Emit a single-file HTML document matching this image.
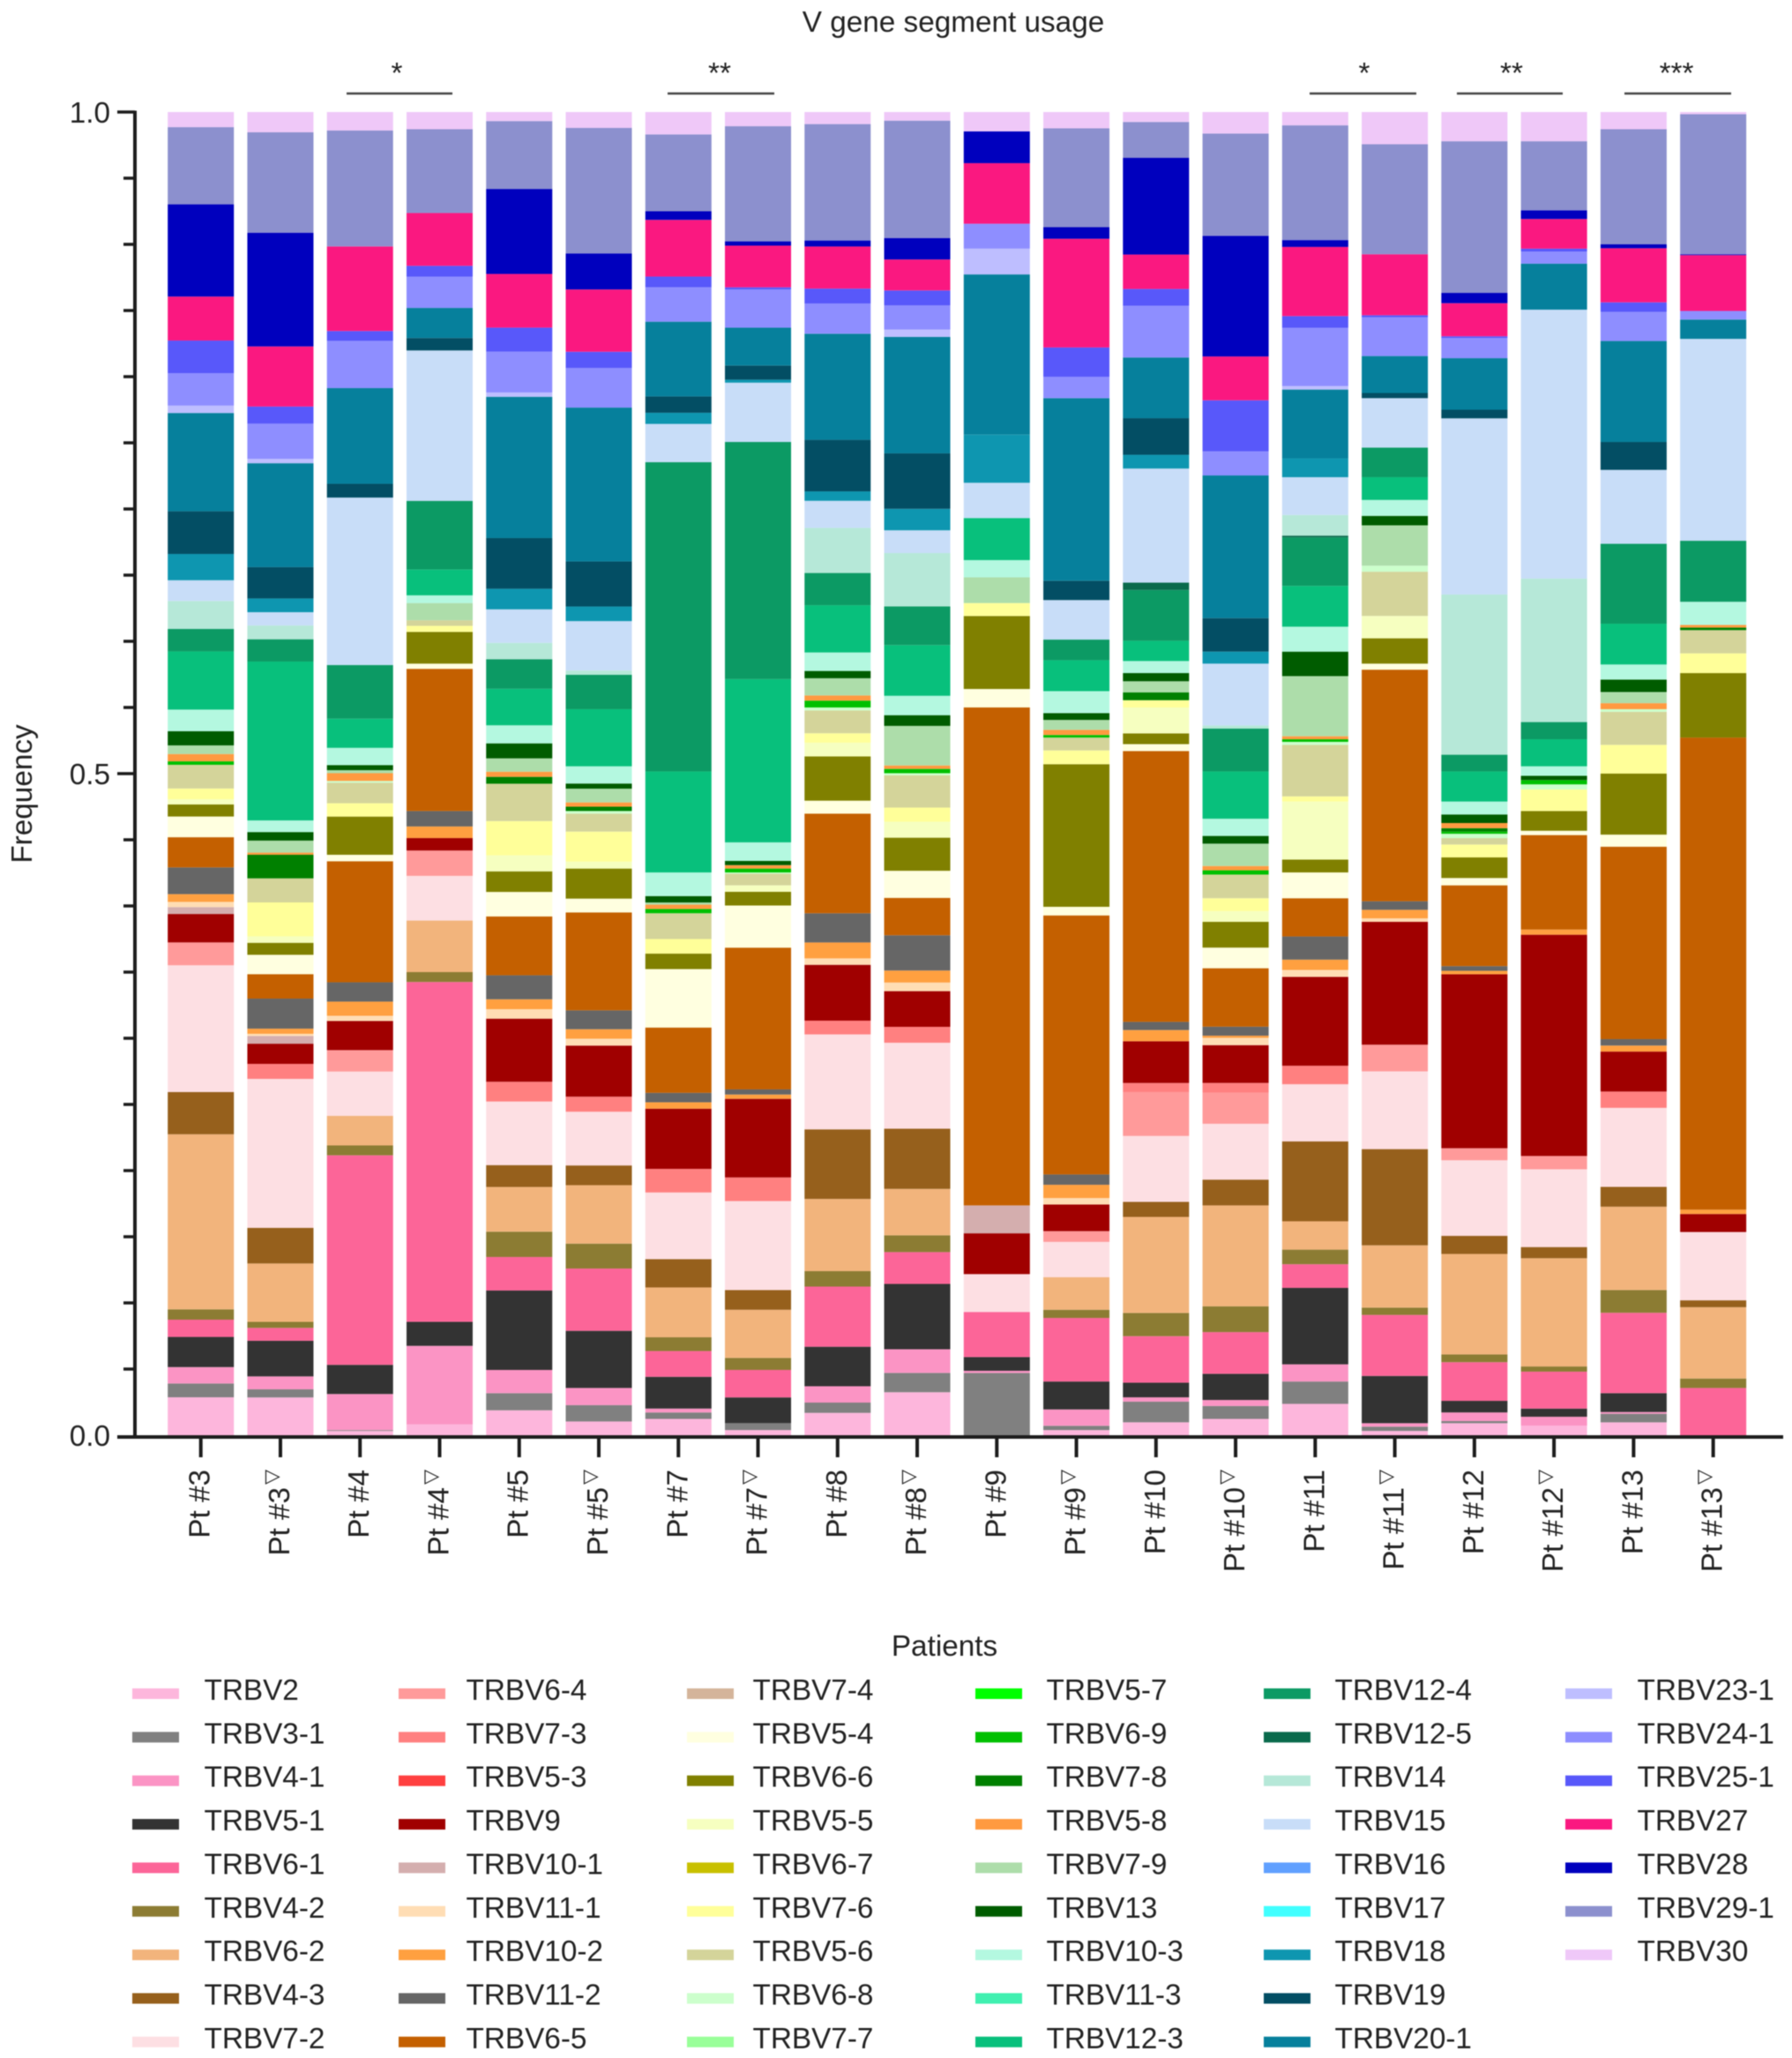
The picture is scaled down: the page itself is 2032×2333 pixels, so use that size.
<!DOCTYPE html>
<html lang="en">
<head>
<meta charset="utf-8">
<title>V gene segment usage</title>
<style>
html,body{margin:0;padding:0;background:#fff;}
body{width:2032px;height:2333px;overflow:hidden;}
svg{display:block;filter:blur(0.6px);}
text{font-family:"Liberation Sans",sans-serif;font-size:33.3px;fill:#222;}
</style>
</head>
<body>
<svg id="chart" xmlns="http://www.w3.org/2000/svg" width="2032" height="2333" viewBox="0 0 2032 2333">
  <rect x="0" y="0" width="2032" height="2333" fill="#fff"/>
  <text x="1081" y="36" text-anchor="middle">V gene segment usage</text>
  <text transform="translate(36,900) rotate(-90)" text-anchor="middle">Frequency</text>
  <text x="1071" y="1877" text-anchor="middle">Patients</text>

  <g>
    <line x1="393" x2="513" y1="106" y2="106" stroke="#444" stroke-width="2.5"/>
    <text x="450" y="94" text-anchor="middle">*</text>
  </g>
  <g>
    <line x1="757" x2="878" y1="106" y2="106" stroke="#444" stroke-width="2.5"/>
    <text x="816" y="94" text-anchor="middle">**</text>
  </g>
  <g>
    <line x1="1485" x2="1606" y1="106" y2="106" stroke="#444" stroke-width="2.5"/>
    <text x="1547" y="94" text-anchor="middle">*</text>
  </g>
  <g>
    <line x1="1652" x2="1772" y1="106" y2="106" stroke="#444" stroke-width="2.5"/>
    <text x="1714" y="94" text-anchor="middle">**</text>
  </g>
  <g>
    <line x1="1842" x2="1963" y1="106" y2="106" stroke="#444" stroke-width="2.5"/>
    <text x="1901" y="94" text-anchor="middle">***</text>
  </g>

  <g id="bars"></g>
  <g id="axes"></g>
  <g id="legend"></g>
</svg>

<script>
const patients = ["Pt #3","Pt #3▽","Pt #4","Pt #4▽","Pt #5","Pt #5▽","Pt #7","Pt #7▽","Pt #8","Pt #8▽",
  "Pt #9","Pt #9▽","Pt #10","Pt #10▽","Pt #11","Pt #11▽","Pt #12","Pt #12▽","Pt #13","Pt #13▽"];

const genes = ["TRBV2","TRBV3-1","TRBV4-1","TRBV5-1","TRBV6-1","TRBV4-2","TRBV6-2","TRBV4-3","TRBV7-2",
  "TRBV6-4","TRBV7-3","TRBV5-3","TRBV9","TRBV10-1","TRBV11-1","TRBV10-2","TRBV11-2","TRBV6-5",
  "TRBV7-4","TRBV5-4","TRBV6-6","TRBV5-5","TRBV6-7","TRBV7-6","TRBV5-6","TRBV6-8","TRBV7-7",
  "TRBV5-7","TRBV6-9","TRBV7-8","TRBV5-8","TRBV7-9","TRBV13","TRBV10-3","TRBV11-3","TRBV12-3",
  "TRBV12-4","TRBV12-5","TRBV14","TRBV15","TRBV16","TRBV17","TRBV18","TRBV19","TRBV20-1",
  "TRBV23-1","TRBV24-1","TRBV25-1","TRBV27","TRBV28","TRBV29-1","TRBV30"];

const geneColors = ["#FDB6DC","#808080","#FB94C4","#333333","#FC6598","#8C7C33","#F2B47C","#96601C","#FDDFE3",
  "#FF9A9A","#FF8080","#FF4040","#A00000","#D4AEAE","#FFDDB4","#FFA040","#666666","#C46000",
  "#D4B49A","#FFFFE0","#808000","#F6FFC0","#C8C000","#FFFF99","#D4D49A","#CCFFCC","#99FF99",
  "#00FF00","#00C000","#008000","#FF9A40","#ADDDAA","#005C00","#B4F8E0","#40F0B0","#08C07C",
  "#0C9A64","#0A6A4C","#B6E8D8","#C8DDF8","#60A0FF","#40FFFF","#0E96B0","#034E64","#06809C",
  "#BEBEFF","#8E8EFF","#5858FA","#FA1880","#0000BE","#8C90CE","#EFC8F8"];

/* Relative usage per patient, in gene order; each column is scaled to a frequency summing to 1. */
const pt3 = [88,32,38,70,40,24,406,98,294, 53,0,0,66,16,12,18,62,70, 0,48,28,12,0,25,55,0,0, 0,8,0,17,20,33,50,0,135, 52,0,65,48,0,0,61,99,228, 17,75,76,102,214,179,35];
const pt3Post = [88,19,30,83,30,14,136,83,347, 0,35,0,47,18,5,12,70,57, 0,45,28,15,0,79,56,0,0, 0,0,55,5,28,20,27,0,370, 52,0,32,31,0,0,32,73,242, 10,82,40,140,265,234,47];
const pt4 = [10,2,84,68,488,23,69,0,103, 50,0,0,68,0,12,33,45,282, 0,15,89,0,0,31,48,4,0, 0,0,0,18,7,12,40,0,68, 125,0,0,390,0,0,0,32,223, 0,110,23,197,0,270,43];
const pt4Post = [25,0,183,56,791,23,120,0,104, 59,0,0,29,0,0,27,36,331, 0,12,74,0,0,14,13,0,0, 0,0,0,0,40,0,18,0,60, 160,0,0,350,0,0,0,29,70, 0,73,25,123,0,195,40];
const pt5 = [58,40,54,185,78,59,104,51,148, 0,46,0,147,0,22,23,56,137, 0,57,48,37,0,80,87,0,0, 0,0,16,12,31,35,42,0,85, 69,0,38,78,0,0,48,118,329, 10,95,56,125,198,158,21];
const pt5Post = [32,38,40,133,145,58,136,46,125, 0,35,0,119,0,16,22,44,228, 0,32,70,16,0,70,42,6,0, 0,0,10,10,32,12,40,0,133, 80,0,10,115,0,0,34,105,358, 0,92,38,145,84,292,37];
const pt7 = [38,15,9,74,60,32,116,66,155, 0,55,0,140,0,0,15,22,152, 0,136,36,0,0,34,60,0,0, 0,10,0,10,5,15,55,0,235, 720,0,0,89,0,0,26,38,174, 0,80,25,132,20,179,52];
const pt7Post = [12,16,0,60,64,28,112,46,207, 0,55,0,183,0,0,10,12,330, 0,98,32,15,0,0,27,3,0, 0,9,0,8,0,10,43,0,380, 552,0,0,138,0,0,7,33,88, 0,89,5,97,10,268,33];
const pt8 = [52,24,38,92,140,36,168,162,221, 0,32,0,130,0,15,37,68,232, 0,30,103,32,0,22,53,7,0, 0,16,0,12,40,17,43,0,110, 75,0,105,63,0,0,22,120,247, 0,70,35,98,14,271,28];
const pt8Post = [100,45,55,152,74,39,108,140,200, 0,37,0,83,0,20,28,82,87, 0,63,77,37,0,33,75,5,0, 0,10,0,8,92,25,45,0,118, 90,0,124,53,0,0,50,129,271, 17,56,35,72,50,273,20];
const pt9 = [0,145,5,32,105,0,0,0,88, 0,0,0,95,65,0,0,0,1159, 0,43,170,0,0,30,0,0,0, 0,0,0,0,60,0,40,0,98, 0,0,0,82,0,0,112,0,373, 60,58,0,141,74,0,45];
const pt9Post = [12,10,38,65,148,19,76,0,82, 25,0,0,62,0,15,31,24,603, 0,20,332,0,0,32,30,0,0, 0,6,0,12,23,16,51,0,72, 48,0,0,92,0,0,0,45,425, 0,50,68,253,27,230,38];
const pt10 = [30,48,10,34,108,54,223,35,153, 102,21,0,97,0,0,26,19,629, 0,16,25,60,0,17,0,0,0, 0,0,18,0,26,19,28,0,47, 118,17,0,265,0,0,32,85,141, 0,120,39,80,225,83,23];
const pt10Post = [38,30,14,61,97,60,235,60,130, 72,23,0,88,0,17,5,21,136, 0,48,60,25,0,30,55,0,0, 0,10,0,10,52,18,40,0,110, 100,0,7,144,0,0,28,78,332, 0,56,119,102,281,238,50];
const pt11 = [73,52,40,178,55,34,66,186,133, 0,43,0,207,0,16,24,54,89, 0,60,30,135,0,12,120,7,0, 0,6,0,7,140,57,58,0,95, 113,4,48,88,0,0,44,0,160, 8,136,27,161,16,267,31];
const pt11Post = [10,10,8,110,142,17,145,224,181, 62,0,0,286,0,8,20,20,539, 0,14,59,52,0,0,103,14,0, 0,0,0,0,94,22,37,0,53, 69,0,0,115,0,0,0,12,86, 0,90,5,142,0,256,75];
const pt12 = [28,5,20,27,90,18,234,42,176, 28,0,0,405,0,0,8,11,188, 0,17,48,0,0,30,15,10,0, 0,5,8,12,0,20,30,0,70, 39,0,373,410,0,0,0,20,120, 0,47,4,77,24,353,68];
const pt12Post = [22,0,21,19,86,12,252,26,181, 31,0,0,515,0,0,12,0,220, 0,10,46,0,0,50,0,12,0, 0,10,0,0,0,10,22,0,63, 40,0,334,626,0,0,0,0,107, 0,28,7,69,20,161,68];
const pt13 = [30,20,4,44,187,53,194,46,184, 0,38,0,93,0,0,14,15,448, 0,28,142,0,0,67,77,6,0, 0,0,0,14,26,29,35,0,95, 186,0,0,172,0,0,0,65,235, 0,68,22,126,9,268,40];
const pt13Post = [0,0,0,0,110,22,166,16,159, 0,0,0,42,0,0,10,0,1099, 0,0,150,0,0,46,54,0,0, 0,0,6,6,0,0,54,0,0, 142,0,0,470,0,0,0,0,45, 0,20,0,130,2,326,5];

const patientValues = [pt3,pt3Post,pt4,pt4Post,pt5,pt5Post,pt7,pt7Post,pt8,pt8Post,pt9,pt9Post,pt10,pt10Post,pt11,pt11Post,pt12,pt12Post,pt13,pt13Post];

const yTickLabels = ["0.0","0.5","1.0"];
const yLabelValues = [0,0.5,1];
const yMinorStep = 0.05;

const NS = "http://www.w3.org/2000/svg";
function make(tag, attrs, parent){
  const el = document.createElementNS(NS, tag);
  for (const k in attrs) el.setAttribute(k, attrs[k]);
  parent.appendChild(el);
  return el;
}
function yScale(f){ return 1627 - 1500 * f; }
function barLeft(i){ return 190.2 + 90.26 * i; }
const BAR_WIDTH = 75;

function drawBars(){
  const root = document.getElementById("bars");
  patientValues.forEach(function(values, i){
    const total = values.reduce(function(a,b){ return a + b; }, 0);
    const g = make("g", {}, root);
    
    
    let cum = 0;
    values.forEach(function(v, k){
      if (!v) return;
      const y0 = yScale(cum / total);
      cum += v;
      const y1 = yScale(cum / total);
      const r = make("rect", {x: barLeft(i), y: y1, width: BAR_WIDTH, height: y0 - y1, fill: geneColors[k]}, g);
      
      
    });
  });
}

function drawAxes(){
  const root = document.getElementById("axes");
  const ink = "#1c1c1c";
  const yLine = make("line", {x1:153, x2:153, y1:yScale(1)-1.5, y2:yScale(0)+3, stroke:ink, "stroke-width":4}, root);
  
  
  const xLine = make("line", {x1:133, x2:2022, y1:yScale(0)+2, y2:yScale(0)+2, stroke:ink, "stroke-width":4}, root);
  
  

  const minorCount = Math.round(1 / yMinorStep);
  for (let i = 0; i <= minorCount; i++){
    const f = i * yMinorStep;
    const major = i % 10 === 0;
    const t = make("line", {x1: major ? 133 : 140, x2:153, y1:yScale(f) + (i===0?2:0), y2:yScale(f) + (i===0?2:0), stroke:ink, "stroke-width":3.5}, root);
    
    
  }
  yTickLabels.forEach(function(label, i){
    const t = make("text", {x:125, y:yScale(yLabelValues[i]) + 12, "text-anchor":"end"}, root);
    t.textContent = label;
    
    
  });
  patients.forEach(function(name, i){
    const cx = barLeft(i) + BAR_WIDTH / 2;
    const tick = make("line", {x1:cx, x2:cx, y1:yScale(0)+2, y2:yScale(0)+25, stroke:ink, "stroke-width":4}, root);
    
    
    const label = make("text", {transform:"translate(" + (cx + 10) + ",1666) rotate(-90)", "text-anchor":"end"}, root);
    
    
    const parts = name.split("▽");
    label.appendChild(document.createTextNode(parts[0]));
    if (name.indexOf("▽") >= 0){
      const mark = make("tspan", {dx:3, dy:-13, style:'font-family:"DejaVu Sans",sans-serif;font-size:22px'}, label);
      mark.textContent = "▽";
    }
  });
}

function drawLegend(){
  const root = document.getElementById("legend");
  const swatchX = [150,452,779,1106,1433,1775];
  const labelX = [231.5,528.5,853.5,1186.5,1513.5,1856.5];
  genes.forEach(function(name, i){
    const col = Math.floor(i / 9);
    const row = i % 9;
    const cy = 1920 + row * 49.35;
    const g = make("g", {}, root);
    
    
    const s = make("rect", {x:swatchX[col], y:cy-6, width:53, height:12, fill:geneColors[i]}, g);
    
    
    const t = make("text", {x:labelX[col], y:cy+7}, g);
    t.textContent = name;
    
    
  });
}

drawBars();
drawAxes();
drawLegend();
</script>
</body>
</html>
